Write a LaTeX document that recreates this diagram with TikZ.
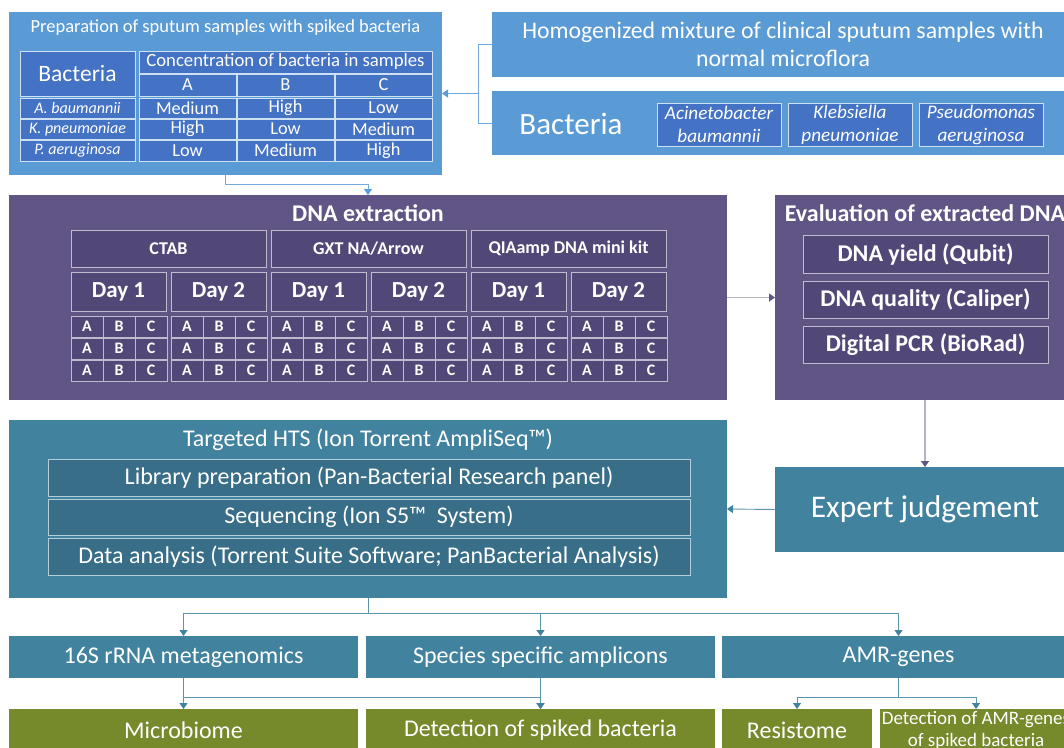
\documentclass[tikz,border=0pt]{standalone}
\usepackage{fontspec}
\setmainfont{Carlito}
\usetikzlibrary{arrows.meta}

\definecolor{prepblue}{HTML}{5B9BD5}
\definecolor{cellblue}{HTML}{4472C4}
\definecolor{extpurple}{HTML}{605585}
\definecolor{cellpurple}{HTML}{524878}
\definecolor{htsteal}{HTML}{41829F}
\definecolor{cellteal}{HTML}{386E88}
\definecolor{resgreen}{HTML}{76892B}

\newcommand{\fs}[2]{\fontsize{#1}{#2}\selectfont}

\tikzset{
  block/.style={anchor=north west, inner sep=0pt, outer sep=0pt, text=white, align=center},
  label/.style={inner sep=0pt, text=white, align=center},
  bluecell/.style={block, fill=cellblue, draw=white!70!prepblue, line width=.8pt},
  purplecell/.style={block, fill=cellpurple, draw=white!60!extpurple, line width=.8pt},
  tealcell/.style={block, fill=cellteal, draw=white!60!htsteal, line width=.8pt},
  bluelink/.style={draw=prepblue!85, line width=.9pt},
  purplelink/.style={draw=extpurple!45, line width=1.2pt},
  teallink/.style={draw=htsteal!85, line width=.9pt},
  tip/.style={-{Triangle[width=8pt,length=6pt,color=#1]}}
}

\begin{document}
\begin{tikzpicture}[x=1pt,y=-1pt]
\useasboundingbox (0,0) rectangle (1064,747);
\clip (0,0) rectangle (1064,747);

% preparation of samples
\node[block, fill=prepblue, minimum width=433pt, minimum height=163pt] (prep) at (9,12) {};
\node[label, font=\fs{18.5}{22}] (prep-title) at (225.5,28) {Preparation of sputum samples with spiked bacteria};
\node[bluecell, minimum width=115pt, minimum height=45pt, font=\fs{23.5}{28}] (bac-head) at (20,51) {Bacteria};
\node[bluecell, minimum width=293pt, minimum height=22pt, font=\fs{18.7}{22}] (conc-head) at (139,51) {Concentration of bacteria in samples};
\foreach \col/\x in {A/139,B/237,C/335}
  \node[bluecell, minimum width=97pt, minimum height=22pt, font=\fs{18.5}{22}] (conc-\col) at (\x,74) {\col};
\foreach \bac/\y/\h/\va/\vb/\vc [count=\r] in {A. baumannii/98/20/Medium/High/Low,
    K. pneumoniae/119/20/High/Low/Medium, P. aeruginosa/140/21/Low/Medium/High}{
  \node[bluecell, minimum width=115pt, minimum height=\h pt, font=\fs{16}{19}\itshape] (bac-\r) at (20,\y) {\bac};
  \node[bluecell, minimum width=97pt, minimum height=\h pt, font=\fs{18.3}{22}] (val-\r-A) at (139,\y) {\va};
  \node[bluecell, minimum width=97pt, minimum height=\h pt, font=\fs{18.3}{22}] (val-\r-B) at (237,\y) {\vb};
  \node[bluecell, minimum width=97pt, minimum height=\h pt, font=\fs{18.3}{22}] (val-\r-C) at (335,\y) {\vc};
}

% sputum mixture and bacteria
\node[block, fill=prepblue, minimum width=582pt, minimum height=65pt, font=\fs{23.8}{28}] (mix) at (492,12)
  {Homogenized mixture of clinical sputum samples with\\normal microflora};
\node[block, fill=prepblue, minimum width=582pt, minimum height=64pt] (bact) at (492,91) {};
\node[label, font=\fs{31}{36}] (bact-title) at (571,124) {Bacteria};
\foreach \sp/\x [count=\s] in {{Acinetobacter\\baumannii}/657, {Klebsiella\\pneumoniae}/788, {Pseudomonas\\aeruginosa}/919}
  \node[bluecell, minimum width=124pt, minimum height=43pt, font=\fs{19.2}{23}\itshape] (sp-\s) at (\x,103) {\sp};

% DNA extraction
\node[block, fill=extpurple, minimum width=718pt, minimum height=205pt] (dna) at (9,195) {};
\node[label, font=\fs{24}{28}\bfseries] (dna-title) at (368,213) {DNA extraction};
\foreach \kit [count=\k from 0] in {CTAB, {GXT NA/Arrow}, {QIAamp DNA mini kit}}{
  \node[purplecell, minimum width=195pt, minimum height=37pt, font=\fs{18}{21}\bfseries] (kit-\k) at (71+200*\k,230) {\kit};
  \foreach \d in {0,1}{
    \pgfmathtruncatemacro{\day}{\d+1}
    \node[purplecell, minimum width=95pt, minimum height=39pt, font=\fs{23}{27}\bfseries] (day-\k-\day) at (71+200*\k+100*\d,272) {Day \day};
  }
}
\foreach \c in {0,...,5}
  \foreach \r in {0,1,2}
    \foreach \smp [count=\i from 0] in {A,B,C}
      \node[purplecell, minimum width=32pt, minimum height=21pt, font=\fs{16}{19}\bfseries] (smp-\c-\r-\smp) at (71+100*\c+32*\i,316+22*\r) {\smp};

% evaluation
\node[block, fill=extpurple, minimum width=300pt, minimum height=205pt] (eval) at (775,195) {};
\node[label, font=\fs{24}{28}\bfseries] (eval-title) at (925,213) {Evaluation of extracted DNA};
\node[purplecell, minimum width=245pt, minimum height=38pt, font=\fs{24}{28}\bfseries] (yield) at (803,235) {DNA yield (Qubit)};
\node[purplecell, minimum width=245pt, minimum height=37pt, font=\fs{24}{28}\bfseries] (quality) at (803,281) {DNA quality (Caliper)};
\node[purplecell, minimum width=245pt, minimum height=37pt, font=\fs{24}{28}\bfseries] (dpcr) at (803,326) {Digital PCR (BioRad)};

% sequencing
\node[block, fill=htsteal, minimum width=718pt, minimum height=178pt] (hts) at (9,420) {};
\node[label, font=\fs{24}{28}] (hts-title) at (368,440) {Targeted HTS (Ion Torrent AmpliSeq™)};
\node[tealcell, minimum width=642pt, minimum height=37pt, font=\fs{24}{28}] (library) at (48,459) {Library preparation (Pan-Bacterial Research panel)};
\node[tealcell, minimum width=642pt, minimum height=36pt, font=\fs{24}{28}] (sequencing) at (48,499) {Sequencing (Ion S5™~ System)};
\node[tealcell, minimum width=642pt, minimum height=37pt, font=\fs{24}{28}] (analysis) at (48,538) {Data analysis (Torrent Suite Software; PanBacterial Analysis)};

\node[block, fill=htsteal, minimum width=300pt, minimum height=85pt, font=\fs{31.5}{36}] (expert) at (775,467) {Expert judgement};

% results
\node[block, fill=htsteal, minimum width=349pt, minimum height=42pt, font=\fs{24}{28}] (rrna) at (9,636) {16S rRNA metagenomics};
\node[block, fill=htsteal, minimum width=349pt, minimum height=42pt, font=\fs{24}{28}] (species) at (366,636) {Species specific amplicons};
\node[block, fill=htsteal, minimum width=353pt, minimum height=42pt, font=\fs{24}{28}] (amr) at (722,636) {AMR-genes};
\node[block, fill=resgreen, minimum width=349pt, minimum height=42pt, font=\fs{24}{28}] (microbiome) at (9,709) {Microbiome};
\node[block, fill=resgreen, minimum width=349pt, minimum height=42pt, font=\fs{24}{28}] (spiked) at (366,709) {Detection of spiked bacteria};
\node[block, fill=resgreen, minimum width=150pt, minimum height=42pt, font=\fs{24}{28}] (resistome) at (722,709) {Resistome};
\node[block, fill=resgreen, minimum width=192pt, minimum height=42pt, font=\fs{19}{22}] (amr-spiked) at (880,709) {Detection of AMR-genes\\of spiked bacteria};

% connectors
\draw[bluelink] (mix.west) -- ++(-14,0) coordinate (brk) |- (bact.west);
\draw[bluelink, tip=prepblue] (brk |- prep.east) -- (prep.east);
\draw[bluelink, tip=prepblue] (prep.south) -- ++(0,9) -| (dna.north);
\draw[purplelink, tip=extpurple] (dna.east) -- (eval.west);
\draw[purplelink, tip=extpurple] (eval.south) -- (expert.north);
\draw[teallink, tip=htsteal] (expert.west) -- (hts.east);
\draw[teallink] (hts.south) -- ++(0,15) coordinate (split);
\foreach \to in {rrna,species,amr}
  \draw[teallink, tip=htsteal] (split) -| (\to.north);
\foreach \to in {microbiome,spiked}
  \draw[teallink, tip=htsteal] (rrna.south) -- ++(0,19) -| (\to.north);
\draw[teallink, tip=htsteal] (species.south) -- (spiked.north);
\foreach \to in {resistome,amr-spiked}
  \draw[teallink, tip=htsteal] (amr.south) -- ++(0,19) -| (\to.north);
\end{tikzpicture}
\end{document}
